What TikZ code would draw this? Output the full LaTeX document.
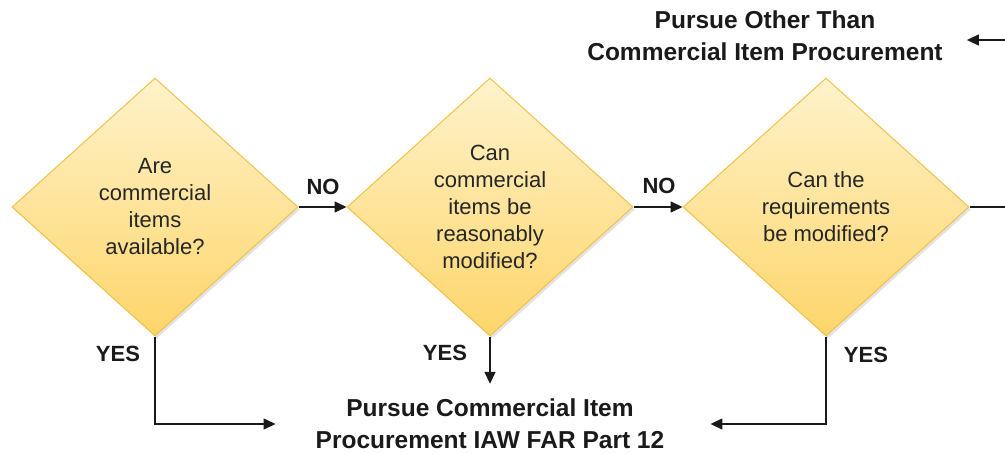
\documentclass[tikz,border=0pt]{standalone}
\usepackage{fontspec}
\setmainfont{Liberation Sans}
\usetikzlibrary{shapes.geometric,arrows.meta,shadows}
\definecolor{dtop}{HTML}{FFF3CC}
\definecolor{dbot}{HTML}{FDD56A}
\definecolor{dline}{HTML}{F2C14A}
\definecolor{ink}{HTML}{1A1A1A}
\begin{document}
\begin{tikzpicture}[x=1pt,y=1pt,
  decision/.style={diamond, draw=dline, line width=1pt, top color=dtop, bottom color=dbot,
    minimum width=286pt, minimum height=258pt, inner sep=0pt, align=center,
    text=black!85, font=\fontsize{22}{27}\selectfont,
    drop shadow={opacity=0.22, shadow xshift=2pt, shadow yshift=-2.5pt}},
  outcome/.style={align=center, font=\fontsize{24.5}{32}\selectfont\bfseries, inner sep=2pt, text=ink},
  lbl/.style={font=\fontsize{22}{26}\selectfont\bfseries, text=ink, inner sep=0pt},
  conn/.style={draw=ink, line width=1.5pt},
  arr/.style={conn, -{Triangle[length=12pt,width=11pt]}}
]
\useasboundingbox (0,0) rectangle (1005,-453);

\node[decision] (d1) at (155,-207) {Are\\commercial\\items\\available?};
\node[decision] (d2) at (490,-207) {Can\\commercial\\items be\\reasonably\\modified?};
\node[decision] (d3) at (826,-207) {Can the\\requirements\\be modified?};

\node[outcome] (other) at (765,-36) {Pursue Other Than\\Commercial Item Procurement};
\node[outcome] (pursue) at (490,-424) {Pursue Commercial Item\\Procurement IAW FAR Part 12};

\coordinate (e1) at (1005,-207);
\coordinate (e2) at (1005,-40);

\draw[arr] (d1.east) -- (d2.west);
\draw[arr] (d2.east) -- (d3.west);
\draw[conn] (d3.east) -- (e1);
\draw[arr, shorten >=22pt] (e2) -- (other.east |- e2);

\draw[arr] (d1.south) |- ([xshift=-38pt]pursue.west);
\draw[arr] (d2.south) -- ([yshift=13pt]pursue.north);
\draw[arr] (d3.south) |- ([xshift=44pt]pursue.east);

\node[lbl] (no1) at (323,-187) {NO};
\node[lbl] (no2) at (659,-186) {NO};
\node[lbl] (yes1) at (118,-354) {YES};
\node[lbl] (yes2) at (445,-353) {YES};
\node[lbl] (yes3) at (866,-355) {YES};
\end{tikzpicture}
\end{document}
